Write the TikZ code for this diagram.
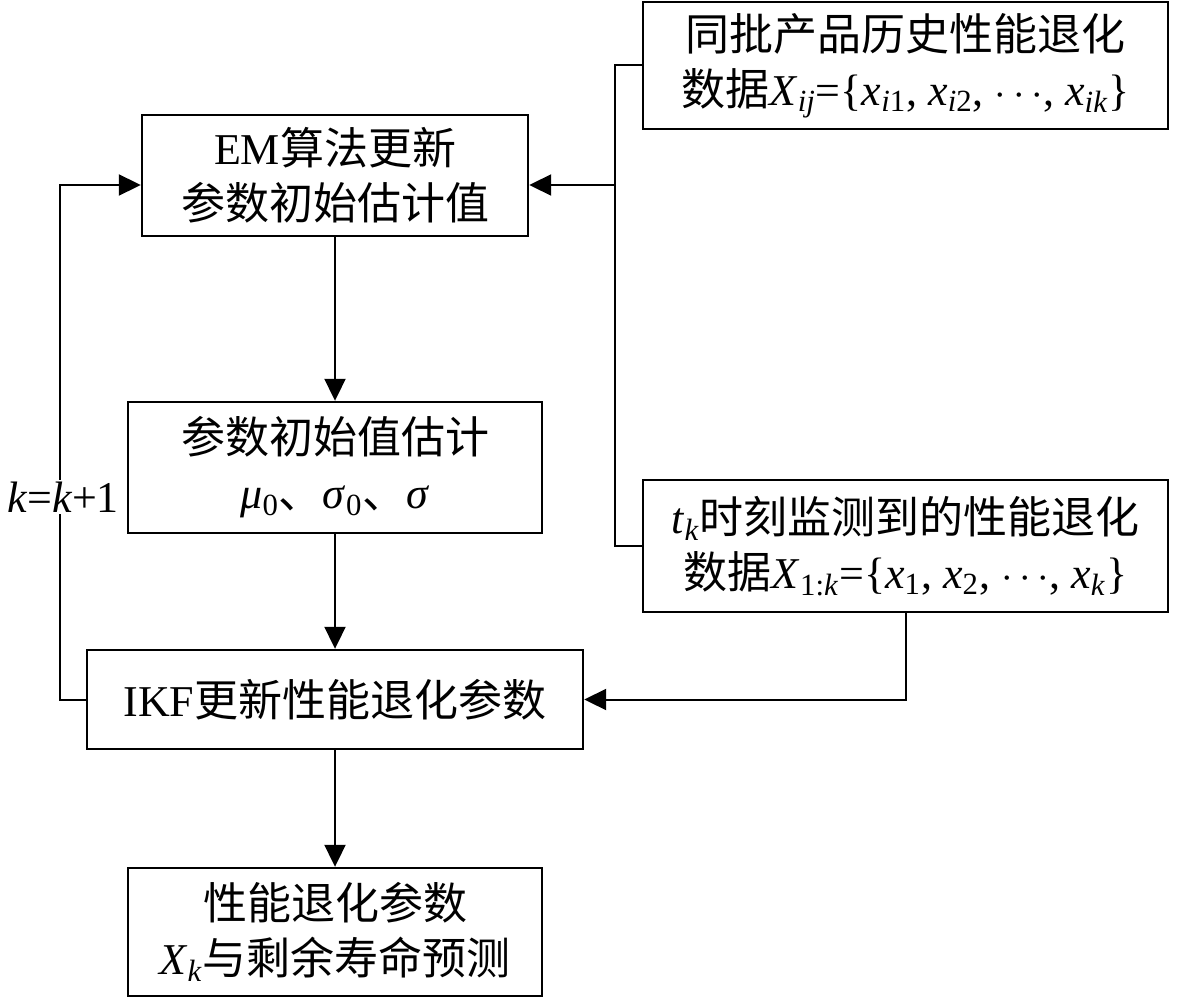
\documentclass[tikz,border=0pt]{standalone}
\usepackage{fontspec}
\setmainfont{Liberation Serif}
\newfontfamily\cjk{Noto Sans CJK SC}
\usetikzlibrary{arrows.meta}

% italic letter with subscript
\newcommand{\iv}[2]{\textit{#1}\textsubscript{#2}}

\tikzset{
  box/.style={draw, line width=1.2pt, align=center, inner sep=0pt,
    font=\fontsize{22}{27.5}\selectfont},
  arr/.style={line width=1pt, -{Triangle[length=11pt,width=10.5pt]}},
  ln/.style={line width=1pt}
}

\begin{document}
\begin{tikzpicture}[x=0.5pt,y=-0.5pt]
      \useasboundingbox (0,0) rectangle (1181,1000);
      \node[box, minimum width=193pt, minimum height=60.5pt] (em) at (335,175.5)
        {EM{\cjk 算法更新}\\{\cjk 参数初始估计值}};
      \node[box, minimum width=262.5pt, minimum height=63.5pt] (hist) at (905.5,65.5)
        {{\cjk 同批产品历史性能退化}\\{\cjk 数据}\iv{X}{\textit{ij}}=\{\iv{x}{\textit{i}1}, \iv{x}{\textit{i}2}, $\cdots$, \iv{x}{\textit{ik}}\}};
      \node[box, minimum width=207pt, minimum height=65.5pt] (init) at (335,467.5)
        {{\cjk 参数初始值估计}\\\iv{μ}{0}{\cjk 、}\iv{σ}{0}{\cjk 、}\textit{σ}};
      \node[box, minimum width=262.5pt, minimum height=66pt] (mon) at (905.5,546)
        {\iv{t}{\textit{k}}{\cjk 时刻监测到的性能退化}\\{\cjk 数据}\iv{X}{1:\textit{k}}=\{\iv{x}{1}, \iv{x}{2}, $\cdots$, \iv{x}{\textit{k}}\}};
      \node[box, minimum width=248pt, minimum height=49.5pt] (ikf) at (335,699.5)
        {IKF{\cjk 更新性能退化参数}};
      \node[box, minimum width=207pt, minimum height=64pt] (pred) at (335,932)
        {{\cjk 性能退化参数}\\\iv{X}{\textit{k}}{\cjk 与剩余寿命预测}};
      % main flow
      \draw[arr] (em.south) -- (init.north);
      \draw[arr] (init.south) -- (ikf.north);
      \draw[arr] (ikf.south) -- (pred.north);
      % feedback loop
      \coordinate (lp) at (60,450);
      \draw[arr] (ikf.west) -| (lp) |- ([yshift=-4.75pt]em.west);
      \node[fill=white, inner sep=1pt, font=\fontsize{22}{26}\selectfont] (kk) at (63,497) {\textit{k}=\textit{k}+1};
      % data inputs
      \coordinate (rb) at (615,300);
      \draw[ln] (hist.west) -| (rb) |- (mon.west);
      \draw[arr] ([yshift=-4.75pt]em.east -| rb) -- ([yshift=-4.75pt]em.east);
      \draw[arr] (mon.south) |- (ikf.east);
\end{tikzpicture}
\end{document}
